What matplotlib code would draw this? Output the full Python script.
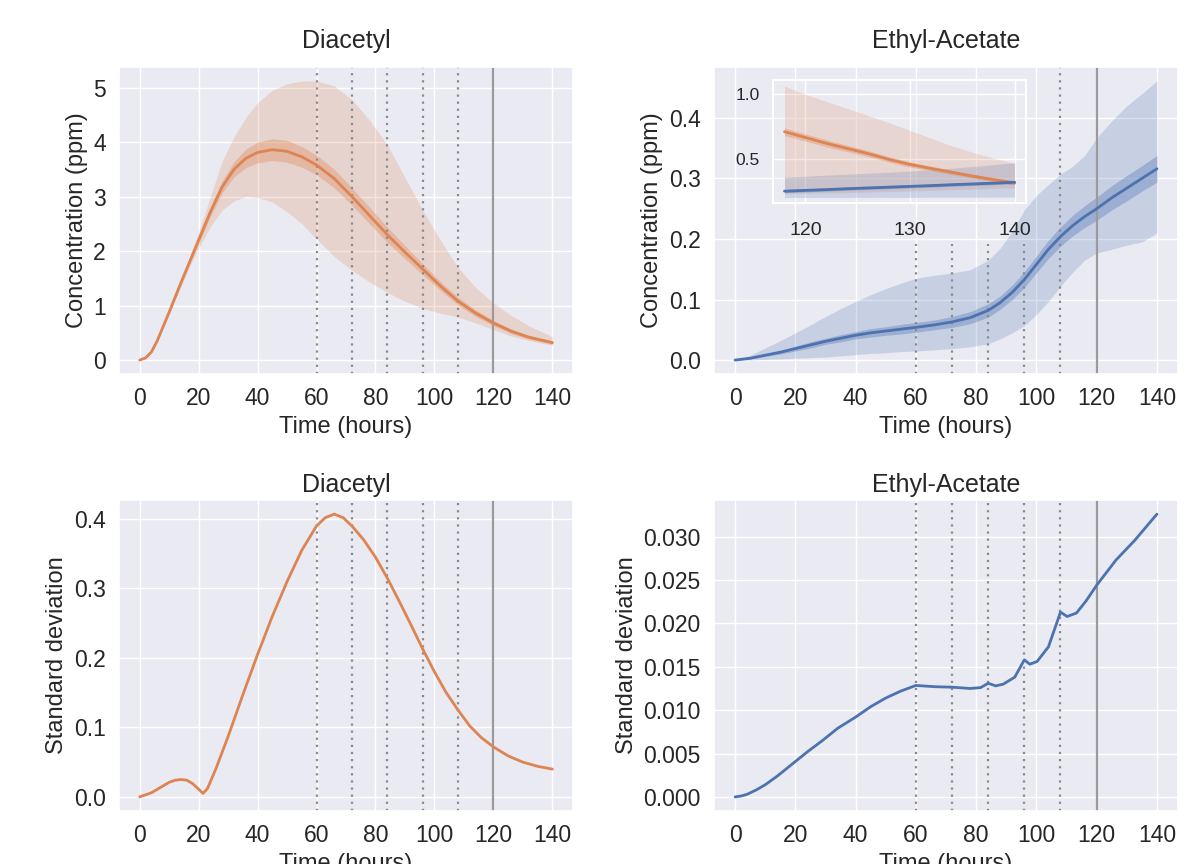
import matplotlib
matplotlib.use("Agg")
import matplotlib.pyplot as plt
import seaborn as sns

sns.set_theme(style="darkgrid")
plt.rcParams['font.family'] = ['Liberation Sans', 'DejaVu Sans']

ORANGE = '#DD8452'
BLUE = '#4C72B0'

# ---------------- Diacetyl (top-left) ----------------
t_dia = [0, 2, 4, 6, 8, 10, 12, 14, 16, 18, 20, 24, 28, 32, 36, 40, 45, 50, 55, 60, 66, 72, 78,
         84, 90, 96, 102, 108, 114, 120, 126, 132, 140]
dia_mean = [0, 0.04, 0.15, 0.36, 0.62, 0.88, 1.15, 1.42, 1.68, 1.94, 2.20, 2.72, 3.18, 3.50,
            3.70, 3.81, 3.86, 3.83, 3.73, 3.58, 3.33, 3.00, 2.65, 2.30, 1.98, 1.67, 1.36, 1.08,
            0.86, 0.68, 0.53, 0.42, 0.32]
dia_inner_hi = [0, 0.045, 0.16, 0.37, 0.64, 0.91, 1.18, 1.46, 1.72, 1.99, 2.26, 2.80, 3.29, 3.64,
                3.87, 4.00, 4.06, 4.03, 3.92, 3.76, 3.50, 3.16, 2.80, 2.44, 2.10, 1.77, 1.44,
                1.15, 0.92, 0.73, 0.57, 0.455, 0.35]
dia_inner_lo = [0, 0.035, 0.14, 0.35, 0.60, 0.85, 1.12, 1.38, 1.64, 1.89, 2.14, 2.64, 3.07, 3.36,
                3.53, 3.62, 3.66, 3.63, 3.54, 3.40, 3.16, 2.84, 2.50, 2.16, 1.86, 1.57, 1.28,
                1.01, 0.80, 0.63, 0.49, 0.385, 0.29]
dia_outer_hi = [0, 0.045, 0.16, 0.37, 0.65, 0.92, 1.20, 1.47, 1.75, 2.04, 2.35, 3.00, 3.65, 4.10,
                4.45, 4.72, 4.95, 5.07, 5.12, 5.12, 5.03, 4.78, 4.40, 3.95, 3.35, 2.75, 2.20,
                1.70, 1.33, 1.05, 0.82, 0.63, 0.43]
dia_outer_lo = [0, 0.035, 0.14, 0.35, 0.59, 0.84, 1.10, 1.35, 1.60, 1.84, 2.05, 2.45, 2.75, 2.92,
                3.00, 2.98, 2.90, 2.72, 2.50, 2.22, 1.90, 1.65, 1.43, 1.24, 1.08, 0.95, 0.86,
                0.79, 0.68, 0.56, 0.44, 0.36, 0.27]

# ---------------- Ethyl-Acetate (top-right) ----------------
t_eth = [0, 5, 10, 15, 20, 25, 30, 35, 40, 45, 50, 55, 60, 66, 72, 78, 84, 88, 92, 96,
         100, 104, 108, 112, 116, 120, 125, 130, 135, 140]
eth_mean = [0, 0.003, 0.008, 0.013, 0.019, 0.025, 0.031, 0.036, 0.041, 0.045, 0.048, 0.051,
            0.054, 0.058, 0.063, 0.070, 0.082, 0.095, 0.112, 0.133, 0.158, 0.183, 0.204, 0.222,
            0.237, 0.250, 0.268, 0.284, 0.300, 0.316]
eth_inner_hi = [0, 0.004, 0.010, 0.016, 0.023, 0.030, 0.036, 0.042, 0.047, 0.052, 0.055, 0.059,
                0.062, 0.066, 0.072, 0.080, 0.093, 0.106, 0.124, 0.146, 0.172, 0.198, 0.220,
                0.239, 0.255, 0.269, 0.288, 0.305, 0.321, 0.338]
eth_inner_lo = [0, 0.002, 0.006, 0.010, 0.015, 0.020, 0.026, 0.030, 0.035, 0.038, 0.041, 0.043,
                0.046, 0.050, 0.054, 0.060, 0.071, 0.084, 0.100, 0.120, 0.144, 0.168, 0.188,
                0.205, 0.219, 0.231, 0.248, 0.263, 0.279, 0.294]
eth_outer_hi = [0, 0.008, 0.020, 0.032, 0.045, 0.058, 0.072, 0.085, 0.097, 0.108, 0.118, 0.127,
                0.135, 0.140, 0.144, 0.149, 0.165, 0.185, 0.213, 0.248, 0.272, 0.290, 0.307,
                0.320, 0.338, 0.367, 0.395, 0.420, 0.440, 0.461]
eth_outer_lo = [0, 0.000, 0.001, 0.002, 0.003, 0.004, 0.005, 0.007, 0.009, 0.011, 0.012, 0.014,
                0.015, 0.017, 0.019, 0.022, 0.027, 0.035, 0.045, 0.057, 0.075, 0.097, 0.122,
                0.145, 0.165, 0.177, 0.183, 0.190, 0.195, 0.210]

# ---------------- Inset (118-140 h) ----------------
t_ins = [118, 120, 122, 124, 126, 128, 130, 132, 134, 136, 138, 140]
ins_dia_mean = [0.71, 0.665, 0.62, 0.58, 0.54, 0.495, 0.456, 0.425, 0.395, 0.365, 0.338, 0.313]
ins_dia_inner_hi = [0.74, 0.693, 0.647, 0.605, 0.563, 0.516, 0.476, 0.443, 0.412, 0.381, 0.353, 0.328]
ins_dia_inner_lo = [0.68, 0.637, 0.593, 0.555, 0.517, 0.474, 0.436, 0.407, 0.378, 0.349, 0.323, 0.298]
ins_dia_outer_hi = [1.065, 1.0, 0.945, 0.89, 0.835, 0.78, 0.72, 0.66, 0.60, 0.55, 0.505, 0.465]
ins_dia_outer_lo = [0.23, 0.232, 0.235, 0.238, 0.242, 0.246, 0.25, 0.255, 0.26, 0.265, 0.27, 0.275]
ins_eth_mean = [0.249, 0.255, 0.261, 0.268, 0.274, 0.280, 0.286, 0.292, 0.299, 0.305, 0.311, 0.318]
ins_eth_inner_hi = [0.261, 0.267, 0.273, 0.280, 0.286, 0.292, 0.298, 0.304, 0.311, 0.317, 0.323, 0.330]
ins_eth_inner_lo = [0.237, 0.243, 0.249, 0.256, 0.262, 0.268, 0.274, 0.280, 0.287, 0.293, 0.299, 0.306]
ins_eth_outer_hi = [0.358, 0.365, 0.373, 0.380, 0.388, 0.396, 0.405, 0.415, 0.427, 0.440, 0.454, 0.469]
ins_eth_outer_lo = [0.200, 0.200, 0.200, 0.200, 0.201, 0.201, 0.201, 0.202, 0.202, 0.202, 0.203, 0.203]

# ---------------- Standard deviations (bottom) ----------------
t_dia_sd = [0, 4, 8, 10, 12, 14, 16, 18, 20, 21.5, 23, 26, 30, 35, 40, 45, 50, 55, 60, 63, 66,
            69, 72, 76, 80, 84, 88, 92, 96, 100, 104, 108, 112, 116, 120, 125, 130, 135, 140]
dia_sd = [0.0, 0.006, 0.016, 0.021, 0.024, 0.025, 0.024, 0.019, 0.011, 0.005, 0.012, 0.042,
          0.087, 0.147, 0.205, 0.260, 0.310, 0.355, 0.390, 0.402, 0.407, 0.402, 0.390, 0.370,
          0.345, 0.315, 0.282, 0.248, 0.213, 0.180, 0.150, 0.125, 0.102, 0.085, 0.072, 0.059,
          0.050, 0.044, 0.040]
t_eth_sd = [0, 2, 4, 7, 10, 14, 19, 24, 29, 34, 40, 45, 50, 55, 60, 66.5, 72, 78, 81.5, 84,
            86.5, 89, 92.8, 96, 97.8, 100.2, 104, 108, 110.2, 113.3, 116.5, 120, 126.4, 132.7, 140]
eth_sd = [0.0, 0.0001, 0.0003, 0.0008, 0.0014, 0.0024, 0.0038, 0.0052, 0.0065, 0.0079,
          0.0092, 0.0104, 0.0114, 0.0122, 0.01285, 0.0127, 0.01265, 0.0125, 0.0126, 0.0131,
          0.0128, 0.0130, 0.0138, 0.0158, 0.0153, 0.0156, 0.0173, 0.0213, 0.0208, 0.0212,
          0.0226, 0.0244, 0.0273, 0.0296, 0.0326]

dotted_times = [60, 72, 84, 96, 108]
solid_time = 120
x_ticks = [0, 20, 40, 60, 80, 100, 120, 140]

TICK_FS = 16.5
LABEL_FS = 17
TITLE_FS = 18

fig = plt.figure(figsize=(11.94, 8.64), dpi=100)
ax1 = fig.add_axes([0.0997, 0.5671, 0.3802, 0.3553])
ax2 = fig.add_axes([0.598, 0.5671, 0.3886, 0.3553])
ax3 = fig.add_axes([0.0997, 0.0613, 0.3802, 0.36])
ax4 = fig.add_axes([0.598, 0.0613, 0.3886, 0.36])

DOT_KW = dict(color='#8a8a8a', linestyle=(0, (1, 2.2)), linewidth=1.6, zorder=1)
SOLID_KW = dict(color='#9a9a9a', linestyle='-', linewidth=1.6, zorder=1)

# top-left
ax1.fill_between(t_dia, dia_outer_lo, dia_outer_hi, color=ORANGE, alpha=0.22, linewidth=0)
ax1.fill_between(t_dia, dia_inner_lo, dia_inner_hi, color=ORANGE, alpha=0.35, linewidth=0)
ax1.plot(t_dia, dia_mean, color=ORANGE, linewidth=2.0)
for t in dotted_times:
    ax1.axvline(t, **DOT_KW)
ax1.axvline(solid_time, **SOLID_KW)
ax1.set_yticks([0, 1, 2, 3, 4, 5])
ax1.set_title('Diacetyl', fontsize=TITLE_FS, pad=14)
ax1.set_ylabel('Concentration (ppm)', fontsize=LABEL_FS)
ax1.set_xlabel('Time (hours)', fontsize=LABEL_FS)

# top-right
ax2.fill_between(t_eth, eth_outer_lo, eth_outer_hi, color=BLUE, alpha=0.22, linewidth=0)
ax2.fill_between(t_eth, eth_inner_lo, eth_inner_hi, color=BLUE, alpha=0.35, linewidth=0)
ax2.plot(t_eth, eth_mean, color=BLUE, linewidth=2.0)
for t in dotted_times[:-1]:
    ax2.axvline(t, ymax=0.423, **DOT_KW)
ax2.axvline(dotted_times[-1], **DOT_KW)
ax2.axvline(solid_time, **SOLID_KW)
ax2.set_yticks([0.0, 0.1, 0.2, 0.3, 0.4])
ax2.set_title('Ethyl-Acetate', fontsize=TITLE_FS, pad=14)
ax2.set_ylabel('Concentration (ppm)', fontsize=LABEL_FS)
ax2.set_xlabel('Time (hours)', fontsize=LABEL_FS)

# bottom-left
ax3.plot(t_dia_sd, dia_sd, color=ORANGE, linewidth=2.0)
for t in dotted_times:
    ax3.axvline(t, **DOT_KW)
ax3.axvline(solid_time, **SOLID_KW)
ax3.set_yticks([0.0, 0.1, 0.2, 0.3, 0.4])
ax3.set_title('Diacetyl', fontsize=TITLE_FS)
ax3.set_ylabel('Standard deviation', fontsize=LABEL_FS)
ax3.set_xlabel('Time (hours)', fontsize=LABEL_FS)

# bottom-right
ax4.plot(t_eth_sd, eth_sd, color=BLUE, linewidth=2.0)
for t in dotted_times:
    ax4.axvline(t, **DOT_KW)
ax4.axvline(solid_time, **SOLID_KW)
ax4.set_yticks([0.0, 0.005, 0.010, 0.015, 0.020, 0.025, 0.030])
ax4.set_yticklabels(['0.000', '0.005', '0.010', '0.015', '0.020', '0.025', '0.030'])
ax4.set_title('Ethyl-Acetate', fontsize=TITLE_FS)
ax4.set_ylabel('Standard deviation', fontsize=LABEL_FS)
ax4.set_xlabel('Time (hours)', fontsize=LABEL_FS)

for ax in (ax1, ax2, ax3, ax4):
    ax.set_xticks(x_ticks)
    ax.tick_params(labelsize=TICK_FS)
    ax.margins(x=0.05, y=0.05)

# inset
axi = fig.add_axes([0.6474, 0.765, 0.212, 0.142])
axi.set_facecolor((0.92, 0.92, 0.95, 0.35))
axi.fill_between(t_ins, ins_dia_outer_lo, ins_dia_outer_hi, color=ORANGE, alpha=0.2, linewidth=0)
axi.fill_between(t_ins, ins_eth_outer_lo, ins_eth_outer_hi, color=BLUE, alpha=0.2, linewidth=0)
axi.fill_between(t_ins, ins_dia_inner_lo, ins_dia_inner_hi, color=ORANGE, alpha=0.35, linewidth=0)
axi.fill_between(t_ins, ins_eth_inner_lo, ins_eth_inner_hi, color=BLUE, alpha=0.35, linewidth=0)
axi.plot(t_ins, ins_dia_mean, color=ORANGE, linewidth=2.0)
axi.plot(t_ins, ins_eth_mean, color=BLUE, linewidth=2.0)
axi.set_xticks([120, 130, 140])
axi.set_yticks([0.5, 1.0])
axi.tick_params(axis='x', labelsize=14, pad=8)
axi.tick_params(axis='y', labelsize=12.5)
for s in axi.spines.values():
    s.set_visible(True)
    s.set_color('white')
    s.set_linewidth(1.5)

fig.savefig('out.png', dpi=100)
